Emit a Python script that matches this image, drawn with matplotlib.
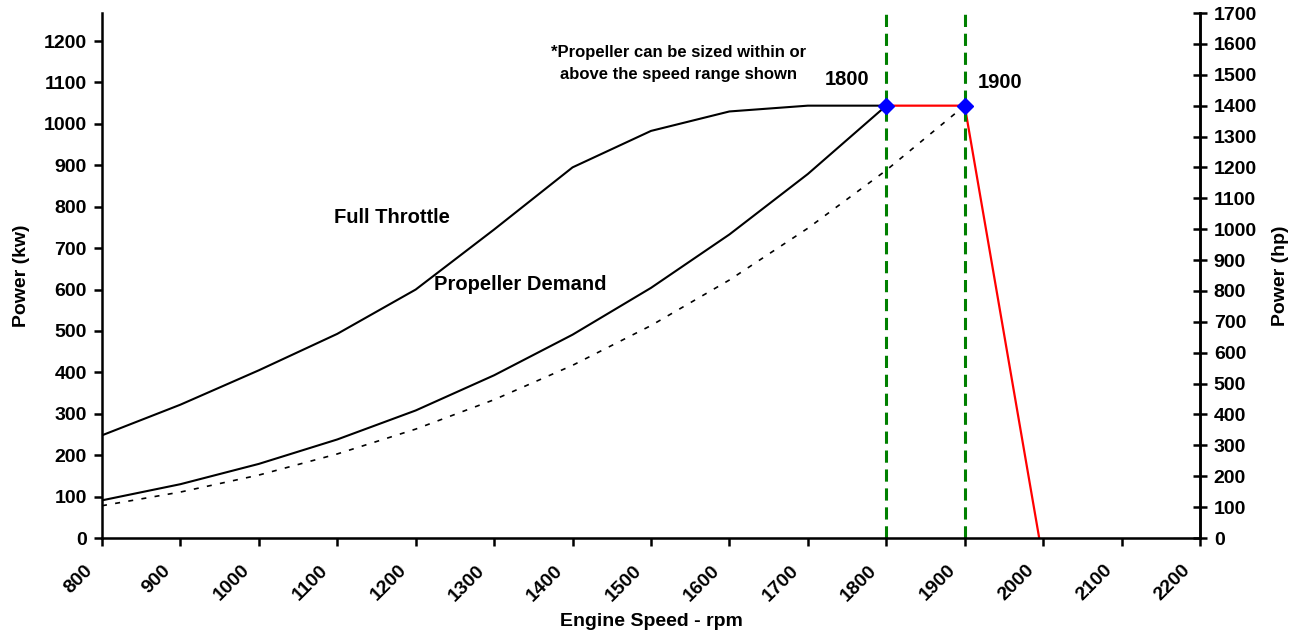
import matplotlib
matplotlib.use("Agg")
import matplotlib.pyplot as plt
from matplotlib.transforms import ScaledTranslation

plt.rcParams["font.family"] = ["Liberation Sans", "DejaVu Sans"]
plt.rcParams["font.weight"] = "bold"

KW_PER_HP = 0.7457

rpm = [800, 900, 1000, 1100, 1200, 1300, 1400, 1500, 1600, 1700, 1800]
full_throttle = [248, 322, 405, 493, 600, 745, 895, 983, 1030, 1044, 1044]
prop_demand = [91, 130, 179, 238, 308, 393, 491, 604, 733, 879, 1044]

rpm_dotted = [800, 900, 1000, 1100, 1200, 1300, 1400, 1500, 1600, 1700, 1800, 1900]
prop_dotted = [78, 111, 152, 203, 263, 334, 417, 513, 623, 748, 888, 1044]

governor_rpm = [1800, 1900, 1995]
governor_kw = [1044, 1044, 0]

rated_rpm = [1800, 1900]
rated_kw = [1044, 1044]

fig = plt.figure(figsize=(12.96, 6.32), dpi=100)
ax = fig.add_axes([0.0787, 0.1487, 0.8472, 0.8307])

ax.plot(rpm, full_throttle, color="black", lw=1.5)
ax.plot(rpm, prop_demand, color="black", lw=1.5)
ax.plot(rpm_dotted, prop_dotted, color="black", lw=1.2, ls=(0, (3, 5)))
ax.plot(governor_rpm, governor_kw, color="red", lw=1.6)
for x in rated_rpm:
    ax.axvline(x, color="green", lw=2.2, ls=(0, (4, 2.2)))
ax.plot(rated_rpm, rated_kw, ls="none", marker="D", ms=8, color="blue")

ax.set_xlim(800, 2200)
ax.set_ylim(0, 1700 * KW_PER_HP)
ax.set_xticks(range(800, 2201, 100))
ax.set_yticks(range(0, 1201, 100))
ax.spines["top"].set_visible(False)
for s in ax.spines.values():
    s.set_linewidth(1.8)
ax.tick_params(axis="both", labelsize=14, width=1.8, length=6)
ax.tick_params(axis="y", pad=5)
ax.tick_params(axis="x", pad=14)
shift = ScaledTranslation(-0.12, -0.02, fig.dpi_scale_trans)
for lbl in ax.get_xticklabels():
    lbl.set_rotation(45)
    lbl.set_ha("right")
    lbl.set_va("center")
    lbl.set_rotation_mode("anchor")
    lbl.set_transform(lbl.get_transform() + shift)
ax.set_xlabel("Engine Speed - rpm", fontsize=14, fontweight="bold", labelpad=6)
ax.set_ylabel("Power (kw)", fontsize=14, fontweight="bold", labelpad=10)

ax2 = ax.twinx()
ax2.set_ylim(0, 1700)
ax2.set_yticks(range(0, 1701, 100))
ax2.spines["top"].set_visible(False)
ax2.spines["left"].set_visible(False)
ax2.spines["right"].set_linewidth(1.8)
ax2.tick_params(axis="y", labelsize=14, width=1.8, length=10, direction="inout", pad=5)
ax2.set_ylabel("Power (hp)", fontsize=14, fontweight="bold", labelpad=11)

ax.text(1535, 1145, "*Propeller can be sized within or\nabove the speed range shown",
        ha="center", va="center", fontsize=12, fontweight="bold", linespacing=1.6)
ax.text(1750, 1106, "1800", ha="center", va="center", fontsize=14.5, fontweight="bold")
ax.text(1945, 1099, "1900", ha="center", va="center", fontsize=14.5, fontweight="bold")
ax.text(1170, 775, "Full Throttle", ha="center", va="center", fontsize=14.5, fontweight="bold")
ax.text(1333, 611, "Propeller Demand", ha="center", va="center", fontsize=14.5, fontweight="bold")

fig.savefig("out.png", dpi=100)
